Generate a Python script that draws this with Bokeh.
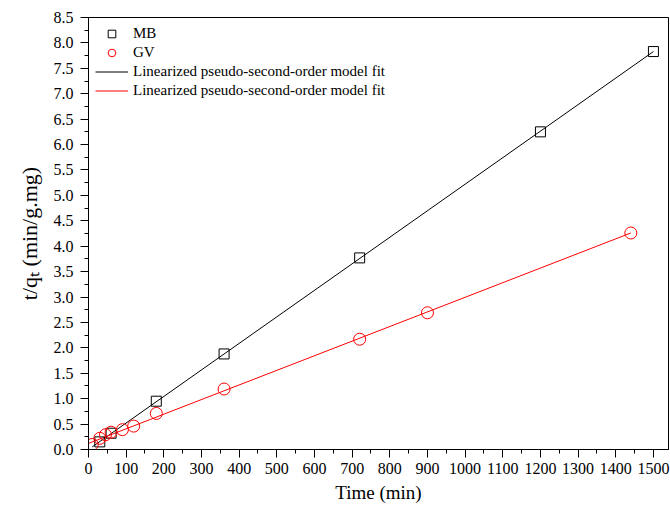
from bokeh.plotting import figure
from bokeh.models import (Legend, LegendItem, SingleIntervalTicker,
                          PrintfTickFormatter, Range1d)
from bokeh.embed import file_html
from bokeh.resources import INLINE

# ---- data ----
mb_t = [30, 60, 180, 360, 720, 1200, 1500]
mb_y = [0.15, 0.32, 0.95, 1.88, 3.77, 6.25, 7.83]

gv_t = [10, 30, 45, 60, 90, 120, 180, 360, 720, 900, 1440]
gv_y = [0.10, 0.22, 0.29, 0.34, 0.39, 0.46, 0.71, 1.19, 2.17, 2.69, 4.26]

# linearized pseudo-second-order fits (slope, intercept) and drawn spans
mb_slope, mb_intercept = 0.00522, 0.0
gv_slope, gv_intercept = 0.002875, 0.12
mb_fit_span = [10, 1500]
gv_fit_span = [0, 1440]

legend_labels = ["MB", "GV", "Linearized pseudo-second-order model fit",
                 "Linearized pseudo-second-order model fit"]
x_label = "Time (min)"
y_label = "t/q\u209c (min/g.mg)"

FONT = "Liberation Serif"

p = figure(width=670, height=511,
           x_range=Range1d(0, 1540), y_range=Range1d(0, 8.5),
           output_backend="svg", toolbar_location=None,
           min_border_left=88, min_border_right=2,
           min_border_top=17, min_border_bottom=62)

p.background_fill_color = "white"
p.border_fill_color = "white"
p.outline_line_color = "black"
p.outline_line_width = 1
p.xgrid.visible = False
p.ygrid.visible = False

# fit lines
mb_fit_y = [mb_slope * x + mb_intercept for x in mb_fit_span]
gv_fit_y = [gv_slope * x + gv_intercept for x in gv_fit_span]
r_mb_fit = p.line(mb_fit_span, mb_fit_y, line_color="black", line_width=1)
r_gv_fit = p.line(gv_fit_span, gv_fit_y, line_color="red", line_width=1)

# data points
r_mb = p.scatter(mb_t, mb_y, marker="square", size=10, line_color="black",
                 fill_color=None, line_width=1)
r_gv = p.scatter(gv_t, gv_y, marker="circle", size=12, line_color="red",
                 fill_color=None, line_width=1)

# axes
p.xaxis.ticker = SingleIntervalTicker(interval=100, num_minor_ticks=2)
p.yaxis.ticker = SingleIntervalTicker(interval=0.5, num_minor_ticks=2)
p.yaxis.formatter = PrintfTickFormatter(format="%.1f")
for ax in (p.xaxis, p.yaxis):
    ax.axis_line_color = "black"
    ax.major_tick_line_color = "black"
    ax.minor_tick_line_color = "black"
    ax.major_tick_out = 8
    ax.major_tick_in = 0
    ax.minor_tick_out = 4
    ax.minor_tick_in = 0
    ax.major_label_text_font = FONT
    ax.major_label_text_font_size = "16px"
    ax.major_label_text_color = "black"
    ax.axis_label_text_font = FONT
    ax.axis_label_text_font_style = "normal"
    ax.axis_label_text_color = "black"
p.xaxis.major_label_standoff = 5
p.yaxis.major_label_standoff = 7

p.xaxis.axis_label = x_label
p.xaxis.axis_label_text_font_size = "19px"
p.xaxis.axis_label_standoff = 5
p.yaxis.axis_label = y_label
p.yaxis.axis_label_text_font_size = "22px"
p.yaxis.axis_label_standoff = 9

legend = Legend(items=[
    LegendItem(label=legend_labels[0], renderers=[r_mb]),
    LegendItem(label=legend_labels[1], renderers=[r_gv]),
    LegendItem(label=legend_labels[2], renderers=[r_mb_fit]),
    LegendItem(label=legend_labels[3], renderers=[r_gv_fit]),
], location=(7, 349))
legend.border_line_color = None
legend.background_fill_alpha = 0
legend.label_text_font = FONT
legend.label_text_font_size = "15px"
legend.label_text_color = "black"
legend.glyph_width = 33
legend.glyph_height = 19
legend.label_height = 19
legend.label_standoff = 5
legend.spacing = 0
legend.padding = 6
legend.margin = 0
p.add_layout(legend)

open("out.html", "w").write(file_html(p, INLINE))
